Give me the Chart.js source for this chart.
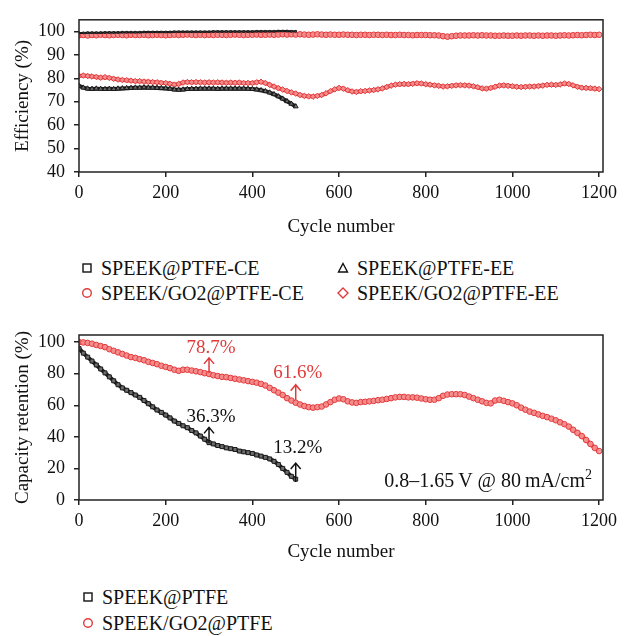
<!DOCTYPE html>
<html>
<head>
<meta charset="utf-8">
<script src="https://cdn.jsdelivr.net/npm/chart.js@4.4.0/dist/chart.umd.min.js"></script>
<style>
  body { margin: 0; background: #fff; width: 632px; height: 636px; position: relative; overflow: hidden; font-family: 'Liberation Serif', serif; }
  canvas { position: absolute; left: 0; }
  .leg { position: absolute; font-size: 20px; color: #111; white-space: nowrap; line-height: 20px; }
  .leg svg { position: absolute; left: -20px; top: 4px; }
</style>
</head>
<body>
<canvas id="effChart" width="632" height="240" style="top:0"></canvas>
<canvas id="capChart" width="632" height="250" style="top:315px"></canvas>

<div class="leg" style="left:101px;top:258px"><svg width="12" height="12"><rect x="2" y="2" width="8" height="8" fill="none" stroke="#111" stroke-width="1.4"/></svg>SPEEK@PTFE-CE</div>
<div class="leg" style="left:357px;top:258px"><svg width="12" height="12"><polygon points="6,1.5 10.5,10 1.5,10" fill="none" stroke="#111" stroke-width="1.4"/></svg>SPEEK@PTFE-EE</div>
<div class="leg" style="left:101px;top:283px"><svg width="12" height="12"><circle cx="6" cy="6" r="4.3" fill="none" stroke="#e03a3a" stroke-width="1.4"/></svg>SPEEK/GO2@PTFE-CE</div>
<div class="leg" style="left:357px;top:283px"><svg width="12" height="12"><polygon points="6,1 11,6 6,11 1,6" fill="none" stroke="#e03a3a" stroke-width="1.4"/></svg>SPEEK/GO2@PTFE-EE</div>

<div class="leg" style="left:102px;top:587px"><svg width="12" height="12"><rect x="2" y="2" width="8" height="8" fill="none" stroke="#111" stroke-width="1.4"/></svg>SPEEK@PTFE</div>
<div class="leg" style="left:102px;top:613px"><svg width="12" height="12"><circle cx="6" cy="6" r="4.3" fill="none" stroke="#e03a3a" stroke-width="1.4"/></svg>SPEEK/GO2@PTFE</div>

<script>
// cycle numbers (sampled every 10 cycles)
const cyclesPTFE = [0,10,20,30,40,50,60,70,80,90,100,110,120,130,140,150,160,170,180,190,
  200,210,220,230,240,250,260,270,280,290,300,310,320,330,340,350,360,370,380,390,
  400,410,420,430,440,450,460,470,480,490,500];
const cyclesGO2 = [0,10,20,30,40,50,60,70,80,90,100,110,120,130,140,150,160,170,180,190,
  200,210,220,230,240,250,260,270,280,290,300,310,320,330,340,350,360,370,380,390,
  400,410,420,430,440,450,460,470,480,490,500,510,520,530,540,550,560,570,580,590,
  600,610,620,630,640,650,660,670,680,690,700,710,720,730,740,750,760,770,780,790,
  800,810,820,830,840,850,860,870,880,890,900,910,920,930,940,950,960,970,980,990,
  1000,1010,1020,1030,1040,1050,1060,1070,1080,1090,1100,1110,1120,1130,1140,1150,1160,1170,1180,1190,1200];

// efficiency (%)
const ptfeCE = [99.4,99.4,99.5,99.5,99.5,99.5,99.6,99.6,99.6,99.6,
  99.7,99.7,99.7,99.7,99.7,99.8,99.8,99.8,99.8,99.8,
  99.8,99.8,99.9,99.9,99.9,99.9,99.9,99.9,99.9,99.9,
  99.9,100,100,100,100,100,100,100,100,100,
  100,100.1,100.1,100.1,100.1,100.1,100.2,100.2,100.2,100.1,100.1];
const ptfeEE = [76.8,76,75.6,75.5,75.6,75.5,75.4,75.5,75.4,75.6,
  75.7,75.8,75.9,76,76,76.1,76,76,75.9,75.8,
  75.7,75.5,75.2,75.1,75.2,75.4,75.5,75.5,75.6,75.6,
  75.6,75.6,75.5,75.6,75.6,75.6,75.6,75.6,75.6,75.5,
  75.4,75.2,74.9,74.5,73.9,73.2,72.3,71.3,70.2,69.1,68];
const go2CE = [98.4,98.5,98.3,98.5,98.4,98.6,98.5,98.4,98.5,98.6,
  98.5,98.4,98.6,98.5,98.5,98.6,98.4,98.5,98.6,98.5,
  98.4,98.5,98.6,98.5,98.6,98.7,98.6,98.5,98.6,98.5,
  98.6,98.5,98.6,98.6,98.5,98.6,98.7,98.6,98.5,98.6,
  98.6,98.7,98.6,98.6,98.7,98.6,98.7,98.8,98.7,98.8,
  98.7,98.8,98.7,98.6,98.7,98.8,98.7,98.6,98.7,98.6,
  98.6,98.7,98.6,98.6,98.5,98.6,98.6,98.5,98.6,98.6,
  98.5,98.6,98.5,98.5,98.6,98.5,98.5,98.4,98.5,98.5,
  98.5,98.4,98.4,98.3,98.0,97.8,98.0,98.2,98.3,98.3,
  98.3,98.4,98.3,98.4,98.3,98.3,98.2,98.2,98.3,98.2,
  98.2,98.3,98.2,98.3,98.3,98.2,98.3,98.2,98.3,98.3,
  98.2,98.3,98.4,98.3,98.4,98.5,98.4,98.5,98.6,98.5,98.6];
const go2EE = [81,81.2,81,80.8,80.6,80.3,80.5,80.2,79.8,79.5,
  79.3,79.2,79,78.8,78.8,78.6,78.5,78.4,78.3,78.1,
  78,77.7,77.3,77.6,78.2,78.4,78.3,78.4,78.3,78.2,
  78.3,78.2,78.3,78.2,78.1,78.2,78.1,78.2,78,78,
  78,78.3,78.5,78,77.2,76.5,75.8,75.2,74.6,74,
  73.5,72.9,72.5,72.3,72.2,72.5,72.9,73.6,74.5,75.3,
  75.9,75.6,74.9,74.4,74.2,74.5,74.6,74.8,75,75.3,
  75.7,76.3,76.9,77.3,77.5,77.6,77.5,77.7,77.9,77.8,
  77.5,77.3,77,76.8,76.5,76.6,76.8,77,77.1,77,
  76.9,76.6,76.2,75.7,75.6,75.9,76.4,76.9,77,76.8,
  76.6,76.4,76.3,76.4,76.5,76.5,76.7,76.9,77.2,77.3,
  77.2,77.4,77.8,77.6,77,76.4,76,75.9,75.8,75.6,75.4];

// capacity retention (%)
const ptfeCap = [96,93,90.5,88,85.5,83,80.5,78,75.5,73,
  71,69.5,68,66.5,65,63,61,59,57,55.5,
  53.8,52,50,48.5,47,45.8,44,42.5,40.5,38.5,
  36.3,35.5,34.5,33.8,33,32.5,32,31,30.5,30,
  29.5,28.5,27.8,27,26,24.5,22.5,20,17.5,15,13.2];
const go2Cap = [100,99.8,99.5,99,98.2,97.5,96.8,95.5,94.5,93.5,
  92.5,91.5,90.5,90,89.2,88.5,87.5,86.8,86,85,
  84.3,83.5,82.5,81.8,82.5,82.5,82,81.5,81,80.3,
  79.8,79,78.5,78,77.8,77.3,76.8,76.3,75.8,75.3,
  74.8,74.3,73.5,72.5,71,69.5,68,66.5,64.5,63,
  61.6,60.5,59.5,58.8,58.5,58.8,59.2,60.5,62,63.5,
  64.3,63.8,62.5,61.8,61.5,62,62.2,62.5,62.8,63.2,
  63.5,64,64.5,65,65.3,65.3,65,65,64.8,64.3,
  63.8,63.5,63.5,64.5,66,66.8,67,67,67,66.5,
  65.5,64.5,63.5,62.5,61.5,61.2,63,63.5,62.8,62,
  61.2,60,58.5,57.2,56,55.2,54.2,53.3,52.5,51.5,
  50.5,49.2,48,46.5,44.5,42.5,40.5,38,35.5,33,31];

const effTicks = [40, 50, 60, 70, 80, 90, 100];
const capTicks = [0, 20, 40, 60, 80, 100];
const cycleTicks = [0, 200, 400, 600, 800, 1000, 1200];

// callouts on the retention plot: [cycle, arrow from, arrow to, text y, text, colour]
const callouts = [
  [300, 80.4, 90, 96, '78.7%', '#e03a3a'],
  [500, 63.3, 73, 80.5, '61.6%', '#e03a3a'],
  [300, 36, 46, 52.5, '36.3%', '#111'],
  [500, 11.4, 23.4, 33, '13.2%', '#111']
];

const RED = '#e3393b';
const BLACK = '#1a1a1a';
const FONT = 'Liberation Serif';

function pts(xs, ys) { return xs.map((x, i) => ({x: x, y: ys[i]})); }

function series(label, xs, ys, color, style, thin) {
  return {
    label: label,
    data: pts(xs, ys),
    showLine: true,
    borderColor: color,
    borderWidth: thin ? 2 : 4,
    pointStyle: style,
    pointRadius: thin ? 1.2 : 2.8,
    pointBorderWidth: 1,
    pointBorderColor: color,
    pointBackgroundColor: color === RED ? 'rgba(245,150,150,0.9)' : 'rgba(120,120,120,0.9)'
  };
}

const framePlugin = {
  id: 'frame',
  afterDraw(chart) {
    const a = chart.chartArea, ctx = chart.ctx;
    ctx.save();
    ctx.strokeStyle = '#222';
    ctx.lineWidth = 1.5;
    ctx.strokeRect(a.left, a.top, a.right - a.left, a.bottom - a.top);
    ctx.restore();
  }
};

function keepTicks(list) {
  return function (scale) { scale.ticks = list.map(v => ({value: v})); };
}

function makeChart(id, datasets, yMin, yMax, yTicks, yTitle, padTop, xHeight, extra) {
  return new Chart(document.getElementById(id), {
    type: 'scatter',
    data: { datasets: datasets },
    options: {
      responsive: false,
      animation: false,
      layout: { padding: { top: padTop, right: 29, left: 0, bottom: 0 } },
      plugins: { legend: { display: false }, tooltip: { enabled: false } },
      scales: {
        x: {
          type: 'linear', min: 0, max: 1209,
          afterBuildTicks: keepTicks(cycleTicks),
          afterFit(s) { s.height = xHeight; },
          border: { display: false },
          grid: { drawOnChartArea: false, color: '#222', lineWidth: 1.5, tickLength: 5 },
          ticks: { color: '#111', font: { family: FONT, size: 18 }, padding: 5, maxRotation: 0, callback: v => String(v) },
          title: { display: true, text: 'Cycle number', color: '#111', font: { family: FONT, size: 19 }, padding: { top: 2, bottom: 2 } }
        },
        y: {
          min: yMin, max: yMax,
          afterBuildTicks: keepTicks(yTicks),
          afterFit(s) { s.width = 79; },
          border: { display: false },
          grid: { drawOnChartArea: false, color: '#222', lineWidth: 1.5, tickLength: 5 },
          ticks: { color: '#111', font: { family: FONT, size: 18 }, padding: 9, callback: v => String(v) },
          title: { display: true, text: yTitle, color: '#111', font: { family: FONT, size: 19 }, padding: { top: 12, bottom: 0 } }
        }
      }
    },
    plugins: extra ? [framePlugin, extra] : [framePlugin]
  });
}

const notesPlugin = {
  id: 'notes',
  afterDatasetsDraw(chart) {
    const ctx = chart.ctx, xs = chart.scales.x, ys = chart.scales.y;
    ctx.save();
    ctx.lineWidth = 1.5;
    ctx.textAlign = 'center';
    ctx.textBaseline = 'middle';
    ctx.font = '19px "' + FONT + '"';
    callouts.forEach(c => {
      const x = xs.getPixelForValue(c[0]);
      const y0 = ys.getPixelForValue(c[1]), y1 = ys.getPixelForValue(c[2]);
      ctx.strokeStyle = c[5];
      ctx.fillStyle = c[5];
      ctx.beginPath();
      ctx.moveTo(x, y0); ctx.lineTo(x, y1);
      ctx.moveTo(x - 5, y1 + 6); ctx.lineTo(x, y1); ctx.lineTo(x + 5, y1 + 6);
      ctx.stroke();
      ctx.fillText(c[4], x + 2, ys.getPixelForValue(c[3]));
    });
    // operating condition
    const right = chart.chartArea.right - 11;
    const base = ys.getPixelForValue(8);
    ctx.fillStyle = '#111';
    ctx.textAlign = 'right';
    ctx.textBaseline = 'alphabetic';
    ctx.font = '14px "' + FONT + '"';
    const supW = ctx.measureText('2').width;
    ctx.fillText('2', right, base - 8);
    ctx.font = '20px "' + FONT + '"';
    ctx.fillText('0.8\u20131.65\u2009V @ 80\u2009mA/cm', right - supW, base);
    ctx.restore();
  }
};

makeChart('effChart', [
  series('SPEEK@PTFE-CE', cyclesPTFE, ptfeCE, BLACK, 'rect', true),
  series('SPEEK@PTFE-EE', cyclesPTFE, ptfeEE, BLACK, 'triangle'),
  series('SPEEK/GO2@PTFE-CE', cyclesGO2, go2CE, RED, 'circle'),
  series('SPEEK/GO2@PTFE-EE', cyclesGO2, go2EE, RED, 'rectRot')
], 40, 105, effTicks, 'Efficiency (%)', 7, 68);

makeChart('capChart', [
  series('SPEEK@PTFE', cyclesPTFE, ptfeCap, BLACK, 'rect'),
  series('SPEEK/GO2@PTFE', cyclesGO2, go2Cap, RED, 'circle')
], 0, 104.5, capTicks, 'Capacity retention (%)', 20, 65, notesPlugin);
</script>
</body>
</html>
